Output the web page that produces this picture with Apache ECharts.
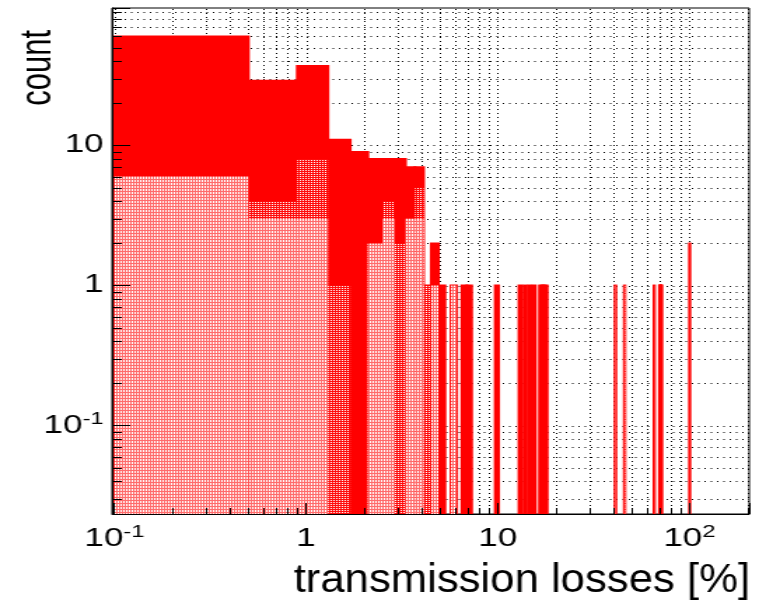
<!DOCTYPE html>
<html><head><meta charset="utf-8">
<script src="https://cdn.jsdelivr.net/npm/echarts@6/dist/echarts.min.js"></script>
<style>
html,body{margin:0;padding:0;background:#fff;overflow:hidden;}
#wrap{width:759px;height:606px;overflow:hidden;position:relative;}
#chart{width:542px;height:606px;transform:scaleX(1.40037);transform-origin:0 0;}
</style></head><body><div id="wrap"><div id="chart"></div></div>
<script>
// ---- axis ranges ----
const X_MIN = 0.0972, X_MAX = 205;
const Y_MIN = 0.0234, Y_MAX = 95.8;
const BIN_WIDTH = 0.4;

// ---- data: histogram bins (low edge) and counts ----
const totalBinLow = [0.1,0.5,0.9,1.3,1.7,2.1,2.5,2.9,3.3,3.7,4.1,4.5,4.9,5.7,6.5,6.9,9.7,12.9,13.7,14.5,15.3,16.5,16.9,17.3,17.7,40.9,45.7,65.3,69.7,70.1,70.5,70.9,71.3,100.1];
const totalCounts = [60,29,37,11,9,8,8,8,7,7,1,2,1,1,1,1,1,1,1,1,1,1,1,1,1,1,1,1,1,1,1,1,1,2];

const subsetABinLow = [0.1,0.5,0.9,1.3,2.1,2.5,2.9,3.3,3.7,4.1,4.5,5.7,40.9,45.7,65.3];
const subsetACounts = [6,4,8,1,2,4,2,3,5,1,1,1,1,1,1];

const subsetBBinLow = [0.1,0.5,0.9,2.1,2.5,3.3,3.7,4.5,5.7,40.9,45.7,65.3];
const subsetBCounts = [6,3,3,2,3,3,3,1,1,1,1,1];

// ---- ticks ----
const xMajorTicks = [0.1, 1, 10, 100];
const yMajorTicks = [0.1, 1, 10];
const xMinorTicks = [0.2,0.3,0.4,0.5,0.6,0.7,0.8,0.9,2,3,4,5,6,7,8,9,20,30,40,50,60,70,80,90,200];
const yMinorTicks = [0.03,0.04,0.05,0.06,0.07,0.08,0.09,0.2,0.3,0.4,0.5,0.6,0.7,0.8,0.9,2,3,4,5,6,7,8,9,20,30,40,50,60,70,80,90];
const xTitle = 'transmission losses [%]';
const yTitle = 'count';

// ---- patterns ----
function makePattern(w, h, base, whitePx, alpha) {
  const c = document.createElement('canvas');
  c.width = w; c.height = h;
  const g = c.getContext('2d');
  g.fillStyle = base; g.fillRect(0, 0, w, h);
  g.fillStyle = 'rgba(255,255,255,' + alpha + ')';
  whitePx.forEach(p => g.fillRect(p[0], p[1], 1, 1));
  return { image: c, repeat: 'repeat' };
}
const darkPattern = makePattern(2, 2, '#ff0a0a', [[0,0]], 1.0);
const lightPattern = makePattern(2, 3, '#ff6a6a', [[0,0],[0,1]], 1.0);

function binData(lows, counts) {
  return lows.map((lo, i) => [lo, lo + BIN_WIDTH, counts[i]]);
}
function histRender(fill, stroke, lw) {
  return function (params, api) {
    const top = api.coord([api.value(0), api.value(2)]);
    const bot = api.coord([api.value(1), Y_MIN]);
    return {
      type: 'rect',
      shape: { x: top[0], y: top[1], width: bot[0] - top[0], height: bot[1] - top[1] },
      style: { fill: fill, stroke: stroke, lineWidth: lw }
    };
  };
}

const gridData = [];
xMinorTicks.concat(xMajorTicks).forEach(v => gridData.push([v, Y_MIN, 0]));
yMinorTicks.concat(yMajorTicks).forEach(v => gridData.push([X_MIN, v, 1]));

function gridRender(params, api) {
  const kind = api.value(2);
  if (kind === 0) {
    const a = api.coord([api.value(0), Y_MIN]), b = api.coord([api.value(0), Y_MAX]);
    const x = Math.round(a[0]) + 0.5;
    return { type: 'line', shape: { x1: x, y1: a[1], x2: x, y2: b[1] },
      style: { stroke: '#000', lineWidth: 1, lineDash: [1, 3] } };
  } else {
    const a = api.coord([X_MIN, api.value(1)]), b = api.coord([X_MAX, api.value(1)]);
    const y = Math.round(a[1]) + 0.5;
    return { type: 'line', shape: { x1: a[0], y1: y, x2: b[0], y2: y },
      style: { stroke: '#000', lineWidth: 1, lineDash: [1, 3.5] } };
  }
}

const minorData = [];
xMinorTicks.forEach(v => minorData.push([v, Y_MIN, 0]));
yMinorTicks.forEach(v => minorData.push([X_MIN, v, 1]));
function minorRender(params, api) {
  const kind = api.value(2);
  if (kind === 0) {
    const a = api.coord([api.value(0), Y_MIN]);
    const x = Math.round(a[0]) + 0.5;
    return { type: 'line', shape: { x1: x, y1: a[1], x2: x, y2: a[1] - 6 }, style: { stroke: '#000', lineWidth: 1 } };
  } else {
    const a = api.coord([X_MIN, api.value(1)]);
    const y = Math.round(a[1]) + 0.5;
    return { type: 'line', shape: { x1: a[0], y1: y, x2: a[0] + 7, y2: y }, style: { stroke: '#000', lineWidth: 1 } };
  }
}

function powLabel(v) {
  const l = Math.log10(v), e = Math.round(l);
  if (Math.abs(l - e) > 1e-6) return '';
  if (e === 0) return '{b|1}';
  if (e === 1) return '{b|10}';
  return '{b|10}{s|' + e + '}';
}
const labelRich = {
  b: { fontFamily: 'Liberation Sans', fontSize: 25, lineHeight: 30, color: '#000' },
  s: { fontFamily: 'Liberation Sans', fontSize: 17, lineHeight: 17, padding: [0, 0, 13, 0], color: '#000' }
};

const chart = echarts.init(document.getElementById('chart'), null, { renderer: 'canvas' });
chart.setOption({
  animation: false,
  backgroundColor: '#fff',
  grid: { left: 80, right: 7, top: 8, bottom: 92, show: true, borderColor: '#000', borderWidth: 1, backgroundColor: '#fff', containLabel: false },
  xAxis: {
    type: 'log', logBase: 10, min: X_MIN, max: X_MAX, z: 5,
    axisLine: { show: true, lineStyle: { color: '#000', width: 1 } },
    axisTick: { show: true, inside: true, length: 11, lineStyle: { color: '#000', width: 1 } },
    axisLabel: { show: true, margin: 10, fontSize: 25, fontFamily: 'Liberation Sans', color: '#000',
      formatter: powLabel, rich: labelRich, showMinLabel: true, showMaxLabel: true, hideOverlap: false },
    splitLine: { show: false }, minorTick: { show: false }
  },
  yAxis: {
    type: 'log', logBase: 10, min: Y_MIN, max: Y_MAX, z: 5,
    axisLine: { show: true, lineStyle: { color: '#000', width: 1 } },
    axisTick: { show: true, inside: true, length: 13, lineStyle: { color: '#000', width: 1 } },
    axisLabel: { show: true, margin: 6, fontSize: 25, fontFamily: 'Liberation Sans', color: '#000',
      formatter: powLabel, rich: labelRich, hideOverlap: false },
    splitLine: { show: false }
  },
  graphic: [
    { type: 'text', x: 535.6, y: 601, z: 10, scaleX: 0.78,
      style: { text: xTitle, font: '40px "Liberation Sans"', fill: '#000', align: 'right', verticalAlign: 'bottom' } },
    { type: 'text', x: 27.5, y: 30, rotation: Math.PI / 2, z: 10,
      style: { text: yTitle, font: '31px "Liberation Sans"', fill: '#000', align: 'right', verticalAlign: 'middle' } }
  ],
  series: [
    { type: 'custom', name: 'grid', z: 1, silent: true, renderItem: gridRender,
      encode: { x: 0, y: 1 }, data: gridData },
    { type: 'custom', name: 'total', z: 2, renderItem: histRender('#ff0000', '#ff0000', 2),
      encode: { x: [0, 1], y: 2 }, data: binData(totalBinLow, totalCounts) },
    { type: 'custom', name: 'subset A', z: 3, renderItem: histRender(darkPattern, null, 0),
      encode: { x: [0, 1], y: 2 }, data: binData(subsetABinLow, subsetACounts) },
    { type: 'custom', name: 'subset B', z: 4, renderItem: histRender(lightPattern, null, 0),
      encode: { x: [0, 1], y: 2 }, data: binData(subsetBBinLow, subsetBCounts) },
    { type: 'custom', name: 'minor ticks', z: 6, silent: true, renderItem: minorRender,
      encode: { x: 0, y: 1 }, data: minorData }
  ]
});
</script></body></html>
